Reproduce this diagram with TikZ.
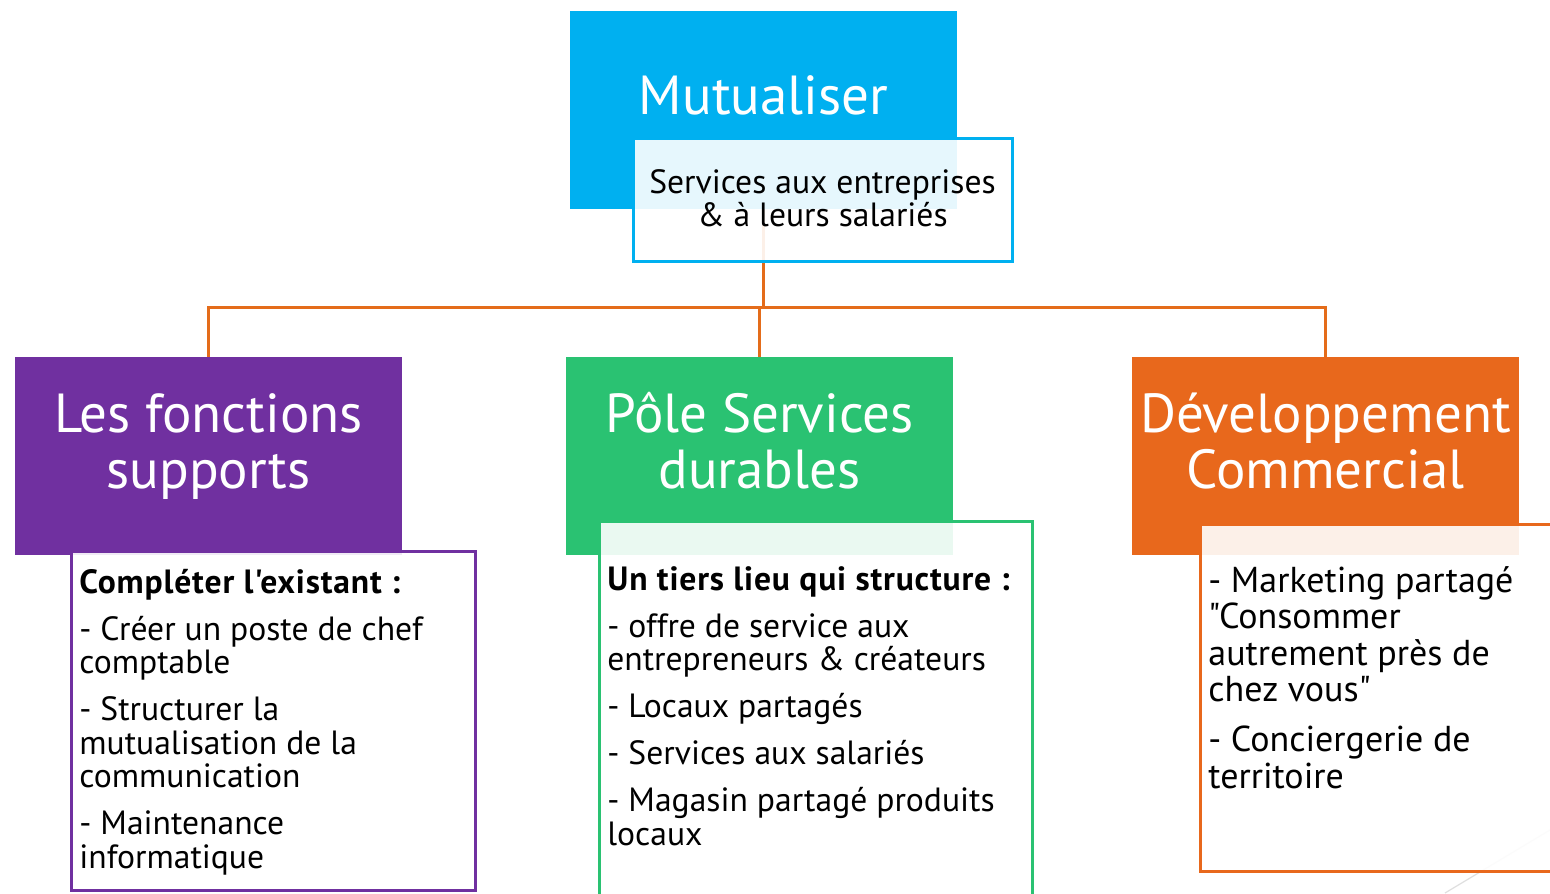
\documentclass[tikz,border=0pt]{standalone}
\usepackage{fontspec}
\setmainfont{PT Sans}[Ligatures=TeXOff]
\definecolor{cblue}{HTML}{00B0F0}
\definecolor{cpurple}{HTML}{7030A0}
\definecolor{cgreen}{HTML}{2AC272}
\definecolor{corange}{HTML}{E8681C}
\definecolor{cline}{HTML}{E46C1A}
\newcommand{\hdline}[1]{{\addfontfeature{LetterSpace=2.5}\bfseries #1}}
\begin{document}
\begin{tikzpicture}[x=0.5pt,y=-0.5pt,
  mainbox/.style={draw=none,minimum width=193.5pt,minimum height=99pt,inner sep=0pt},
  subbox/.style={fill=white,fill opacity=0.9,line width=1.5pt,inner sep=0pt},
  title/.style={text=white,font=\fontsize{27.5pt}{28pt}\selectfont,align=center,anchor=base,inner sep=0pt},
  body/.style={text=black,font=\fontsize{16.8pt}{16.75pt}\selectfont,align=left,anchor=base west,inner sep=0pt},
  conn/.style={draw=cline,line width=1.5pt}]
\clip (0,0) rectangle (1550,893);
\fill[white] (0,0) rectangle (1550,893);
% faint decoration line
\draw[gray!25,line width=0.6pt] (1445,893) -- (1560,824);
% main boxes
\node[mainbox,fill=cblue] (mut) at (763.5,110) {};
\node[mainbox,fill=cpurple] (fs) at (208.5,456) {};
\node[mainbox,fill=cgreen] (ps) at (759.5,456) {};
\node[mainbox,fill=corange] (dc) at (1325.5,456) {};
% connectors
\coordinate (bus) at (0,307);
\draw[conn] (mut.south) -- (mut.south |- bus);
\draw[conn] (fs.north) -- (fs.north |- bus) -- (dc.north |- bus) -- (dc.north);
\draw[conn] (ps.north) -- (ps.north |- bus);
% sub boxes
\node[subbox,draw=cblue,minimum width=189.5pt,minimum height=61pt] (mutsub) at (822.5,200) {};
\node[subbox,draw=cpurple,minimum width=202pt,minimum height=169.5pt] (fssub) at (273,720.5) {};
\node[subbox,draw=cgreen,minimum width=216.5pt,minimum height=192pt] (pssub) at (815.5,713) {};
\node[subbox,draw=corange,minimum width=182.5pt,minimum height=173.5pt] (dcsub) at (1382.5,697.5) {};
% titles (anchor base = last line)
\node[title] (mutt) at (763.5,115) {Mutualiser};
\node[title] (fst) at (208.5,488) {Les fonctions\\supports};
\node[title] (pst) at (759.5,488) {Pôle Services\\durables};
\node[title] (dct) at (1325.5,488) {Développement\\Commercial};
% texts (anchor base = last line)
\node[text=black,font=\fontsize{16.8pt}{17pt}\selectfont,align=center,anchor=base,inner sep=0pt] (mutx) at (822.5,227) {Services aux entreprises\\\& à leurs salariés};
\node[body] (fsx) at (79,868) {\hdline{Compléter l'existant :}\\[6.75pt]
- Créer un poste de chef\\comptable\\[6.75pt]
- Structurer la\\mutualisation de la\\communication\\[6.75pt]
- Maintenance\\informatique};
\node[body] (psx) at (607,845) {\hdline{Un tiers lieu qui structure :}\\[6.75pt]
- offre de service aux\\entrepreneurs \& créateurs\\[6.75pt]
- Locaux partagés\\[6.75pt]
- Services aux salariés\\[6.75pt]
- Magasin partagé produits\\locaux};
\node[body,font=\fontsize{18pt}{18.25pt}\selectfont] (dcx) at (1208,788) {- Marketing partagé\\"Consommer\\autrement près de\\chez vous"\\[6.75pt]
- Conciergerie de\\territoire};
\end{tikzpicture}
\end{document}
